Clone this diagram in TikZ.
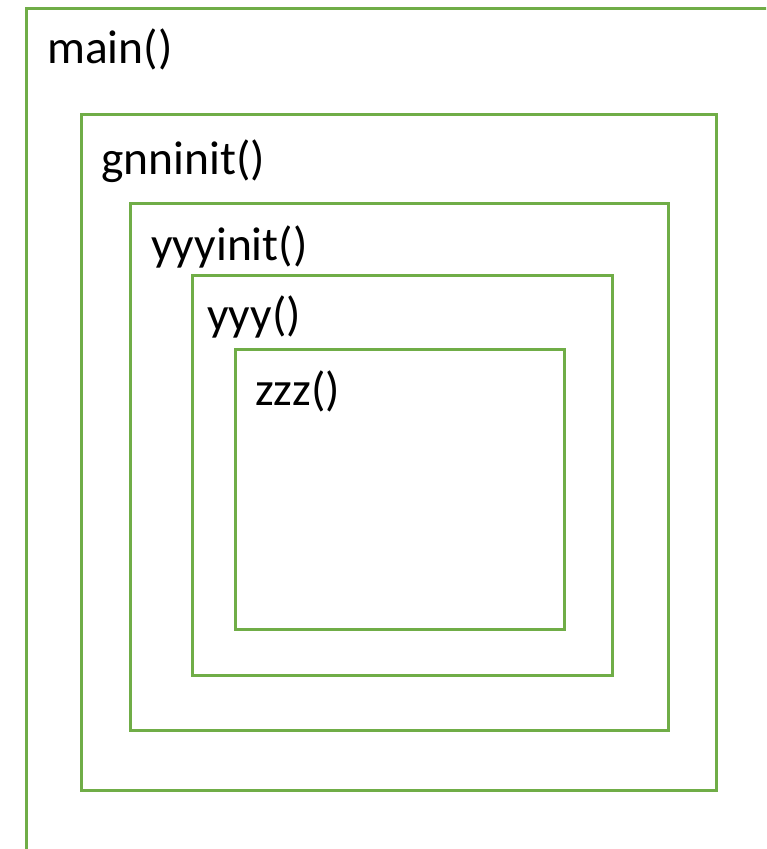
\documentclass[tikz,border=0pt]{standalone}
\usepackage{fontspec}
\setmainfont{Carlito}
\definecolor{framegreen}{HTML}{70AD47}
\tikzset{
  frame/.style={draw=framegreen, line width=3pt},
  fname/.style={anchor=base west, inner sep=0pt, font=\fontsize{47.5}{54}\selectfont, text=black}
}
\begin{document}
\begin{tikzpicture}[x=1pt, y=-1pt]
  \useasboundingbox (0,0) rectangle (766,849);
  \clip (0,0) rectangle (766,849);
  % nested call frames, outermost runs off the page
  \draw[frame] (26,8) rectangle (790,880);
  \draw[frame] (81,114) rectangle (716,790);
  \draw[frame] (130,203) rectangle (668,730);
  \draw[frame] (192,275) rectangle (612,675);
  \draw[frame] (235,349) rectangle (564,629);
  % frame labels
  \node[fname] (main) at (47,63) {main()};
  \node[fname] (gnninit) at (101,174) {gnninit()};
  \node[fname] (yyyinit) at (151,260) {yyyinit()};
  \node[fname] (yyy) at (207,330) {yyy()};
  \node[fname] (zzz) at (255,405) {zzz()};
\end{tikzpicture}
\end{document}
